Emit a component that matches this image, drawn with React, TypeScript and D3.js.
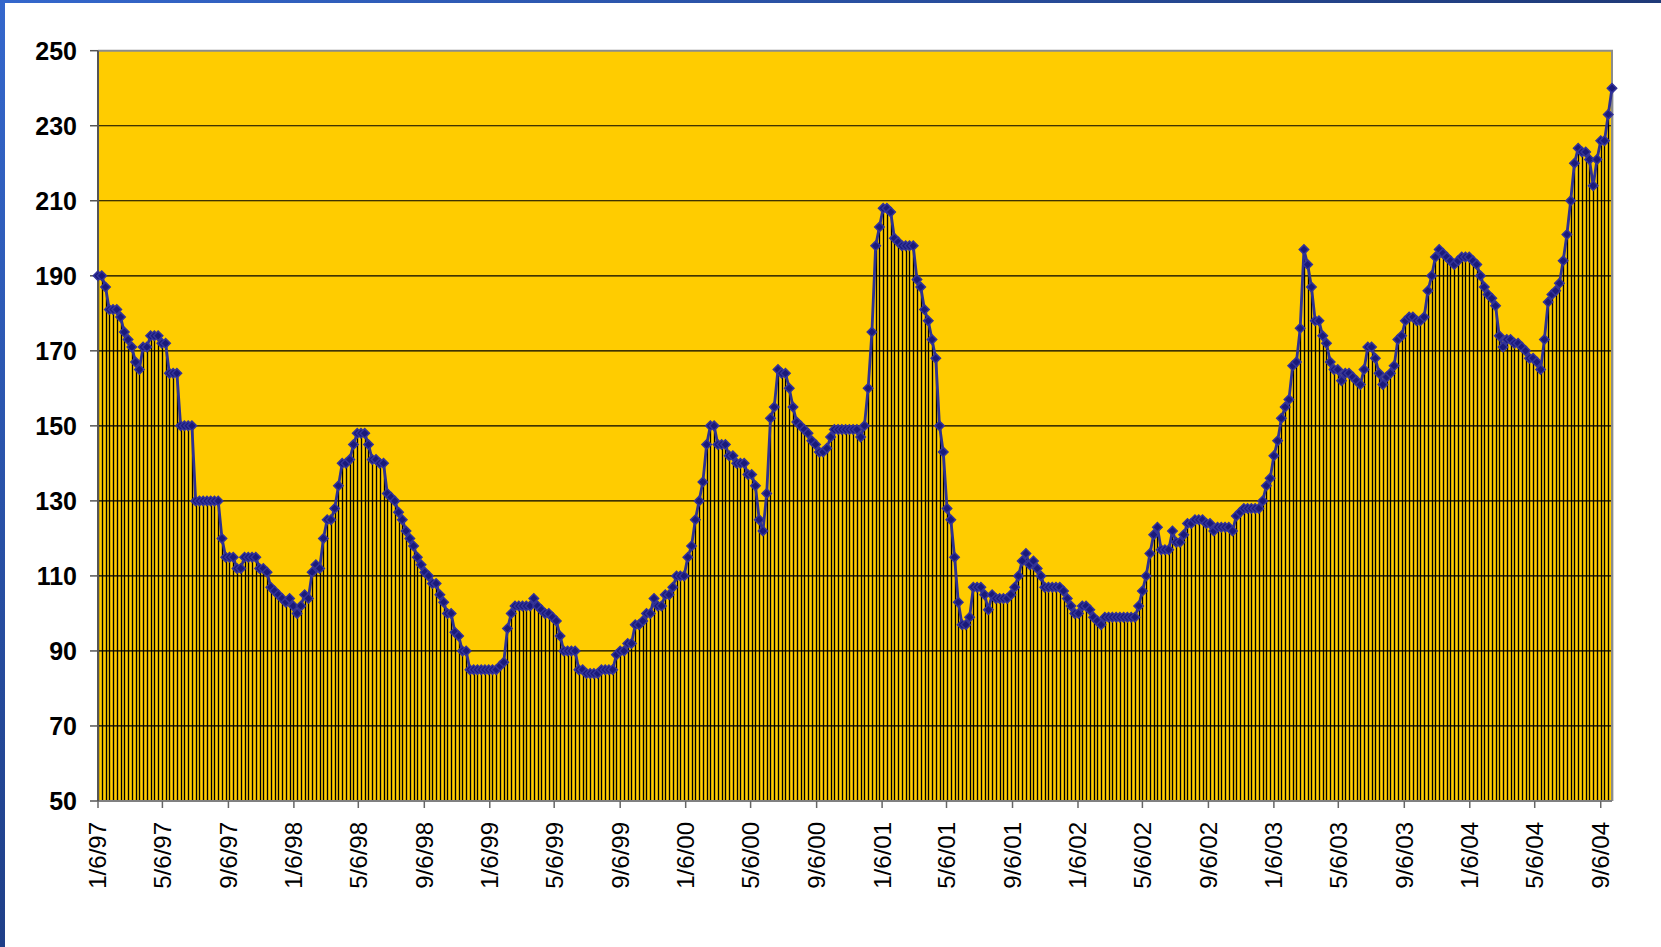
import React from "react";
import * as d3 from "d3";

// weekly series, first week starts Monday 1/6/97
const START_DATE = "1/6/97";

const TICK_LABELS = [
  "1/6/97", "5/6/97", "9/6/97", "1/6/98", "5/6/98", "9/6/98", "1/6/99", "5/6/99",
  "9/6/99", "1/6/00", "5/6/00", "9/6/00", "1/6/01", "5/6/01", "9/6/01", "1/6/02",
  "5/6/02", "9/6/02", "1/6/03", "5/6/03", "9/6/03", "1/6/04", "5/6/04", "9/6/04",
];

const Y_TICKS = [50, 70, 90, 110, 130, 150, 170, 190, 210, 230, 250];

const VALUES_1997 = [
  190, 190, 187, 181, 181, 181, 179, 175, 173, 171, 167, 165, 171, 171, 174, 174, 174, 172, 172, 164,
  164, 164, 150, 150, 150, 150, 130, 130, 130, 130, 130, 130, 130, 120, 115, 115, 115, 112, 112, 115,
  115, 115, 115, 112, 112, 111, 107, 106, 105, 104, 103, 104, 102, 100, 102, 105, 104, 111, 113, 112,
  120, 125, 125, 128, 134, 140, 140, 141, 145,
];
const VALUES_1998 = [
  148, 148, 148, 145, 141, 141, 140, 140, 132, 131, 130, 127, 125, 122, 120, 118, 115, 113, 111, 110,
  108, 108, 105, 103, 100, 100, 95, 94, 90, 90, 85, 85, 85, 85, 85, 85, 85, 85, 86, 87,
  96, 100, 102, 102, 102, 102, 102, 104, 102, 101, 100, 100, 99, 98, 94, 90, 90, 90, 90, 85,
  85, 84, 84, 84, 84, 85, 85, 85, 85,
];
const VALUES_1999 = [
  89, 90, 90, 92, 92, 97, 97, 98, 100, 100, 104, 102, 102, 105, 105, 107, 110, 110, 110, 115,
  118, 125, 130, 135, 145, 150, 150, 145, 145, 145, 142, 142, 140, 140, 140, 137, 137, 134, 125, 122,
  132, 152, 155, 165, 164, 164, 160, 155, 151, 150, 149, 148, 146, 145, 143, 143, 144, 147, 149, 149,
  149, 149, 149, 149, 149, 147, 150, 160,
];
const VALUES_2001 = [
  175, 198, 203, 208, 208, 207, 200, 199, 198, 198, 198, 198, 189, 187, 181, 178, 173, 168, 150, 143,
  128, 125, 115, 103, 97, 97, 99, 107, 107, 107, 105, 101, 105, 104, 104, 104, 104, 105, 107, 110,
  114, 116, 113, 114, 112, 110, 107, 107, 107, 107, 107, 106, 104, 102, 100, 100, 102, 102, 101, 99,
  98, 97, 99, 99, 99, 99,
];
const VALUES_2002 = [
  99, 99, 99, 99, 99, 102, 106, 110, 116, 121, 123, 117, 117, 117, 122, 119, 119, 121, 124, 124,
  125, 125, 125, 124, 124, 122, 123, 123, 123, 123, 122, 126, 127, 128, 128, 128, 128, 128, 130, 134,
  136, 142, 146, 152, 155, 157, 166, 167, 176, 197, 193, 187, 178, 178, 174, 172, 167, 165, 165, 162,
  164, 164, 163, 162, 161, 165, 171, 171, 168,
];
const VALUES_2003 = [
  164, 161, 163, 164, 166, 173, 174, 178, 179, 179, 178, 178, 179, 186, 190, 195, 197, 196, 195, 194,
  193, 194, 195, 195, 195, 194, 193, 190, 187, 185, 184, 182, 174, 171, 173, 173, 172, 172, 171, 170,
  168, 168, 167, 165, 173, 183, 185, 186, 188, 194, 201, 210, 220, 224, 223, 223, 221, 214, 221, 226,
  226, 233, 240,
];

const values = [
  ...VALUES_1997, ...VALUES_1998, ...VALUES_1999,
  ...VALUES_2001, ...VALUES_2002, ...VALUES_2003,
];

const parseDate = d3.timeParse("%m/%d/%y");
const start = parseDate(START_DATE) as Date;
const data = values.map((v, i) => ({ date: d3.timeWeek.offset(start, i), value: v }));

const width = 1661;
const height = 947;
const left = 98;
const right = 1612;
const top = 50.7;
const bottom = 801;
const font = "'Liberation Sans', Arial, sans-serif";

export default function App() {
  const x = d3.scaleTime()
    .domain([data[0].date, data[data.length - 1].date])
    .range([left, right]);
  const y = d3.scaleLinear().domain([50, 250]).range([bottom, top]);

  const line = d3.line<{ date: Date; value: number }>()
    .x((d) => x(d.date))
    .y((d) => y(d.value));

  // square turned 45deg = excel-style diamond
  const marker = d3.symbol().type(d3.symbolSquare).size(44)();

  return (
    <div style={{ position: "absolute", left: 0, top: 0 }}>
      <svg width={width} height={height} style={{ display: "block", background: "#fff" }}>
        <defs>
          <linearGradient id="topBar" x1="0" x2="1" y1="0" y2="0">
            <stop offset="0" stopColor="#3467cc" />
            <stop offset="1" stopColor="#1f3a78" />
          </linearGradient>
          <linearGradient id="leftBar" x1="0" x2="0" y1="0" y2="1">
            <stop offset="0" stopColor="#3467cc" />
            <stop offset="1" stopColor="#1f3f88" />
          </linearGradient>
        </defs>
        <rect x={0} y={0} width={width} height={3} fill="url(#topBar)" />
        <rect x={0} y={0} width={5} height={height} fill="url(#leftBar)" />

        {/* plot area */}
        <rect x={left} y={top} width={right - left} height={bottom - top} fill="#ffcc00" />

        {/* gridlines */}
        {Y_TICKS.filter((t) => t > 50 && t < 250).map((t) => (
          <line key={t} x1={left} x2={right} y1={y(t)} y2={y(t)} stroke="#000" strokeWidth={1.2} />
        ))}

        {/* drop lines */}
        {data.map((d, i) => (
          <line
            key={i}
            x1={Math.round(x(d.date)) + 0.5}
            x2={Math.round(x(d.date)) + 0.5}
            y1={y(d.value)}
            y2={bottom}
            stroke="#000"
            strokeWidth={1.35}
          />
        ))}

        {/* frame */}
        <path
          d={`M${left},${top}H${right}V${bottom}`}
          fill="none"
          stroke="#8c8c8c"
          strokeWidth={2}
        />
        <line x1={left} x2={right} y1={bottom} y2={bottom} stroke="#808080" strokeWidth={2} />
        <line x1={left} x2={left} y1={top} y2={bottom} stroke="#555" strokeWidth={2} />

        {/* y axis */}
        {Y_TICKS.map((t) => (
          <g key={t}>
            <line x1={left - 8} x2={left} y1={y(t)} y2={y(t)} stroke="#555" strokeWidth={1.5} />
            <text
              x={77}
              y={y(t)}
              dy="0.36em"
              textAnchor="end"
              fontFamily={font}
              fontWeight="bold"
              fontSize={25}
              fill="#000"
            >
              {t}
            </text>
          </g>
        ))}

        {/* x axis */}
        {TICK_LABELS.map((label) => {
          const tx = x(parseDate(label) as Date);
          return (
            <g key={label}>
              <line x1={tx} x2={tx} y1={bottom} y2={bottom + 7} stroke="#666" strokeWidth={1.5} />
              <text
                transform={`translate(${tx},${822}) rotate(-90)`}
                dy="0.35em"
                textAnchor="end"
                fontFamily={font}
                fontSize={24}
                fill="#000"
              >
                {label}
              </text>
            </g>
          );
        })}

        {/* series */}
        <path d={line(data) ?? ""} fill="none" stroke="#2e3192" strokeWidth={2.8} />
        {data.map((d, i) => (
          <path
            key={i}
            d={marker ?? ""}
            transform={`translate(${x(d.date)},${y(d.value)}) rotate(45)`}
            fill="#1a1a7a"
            stroke="#333399"
            strokeWidth={1.5}
          />
        ))}
      </svg>
    </div>
  );
}
